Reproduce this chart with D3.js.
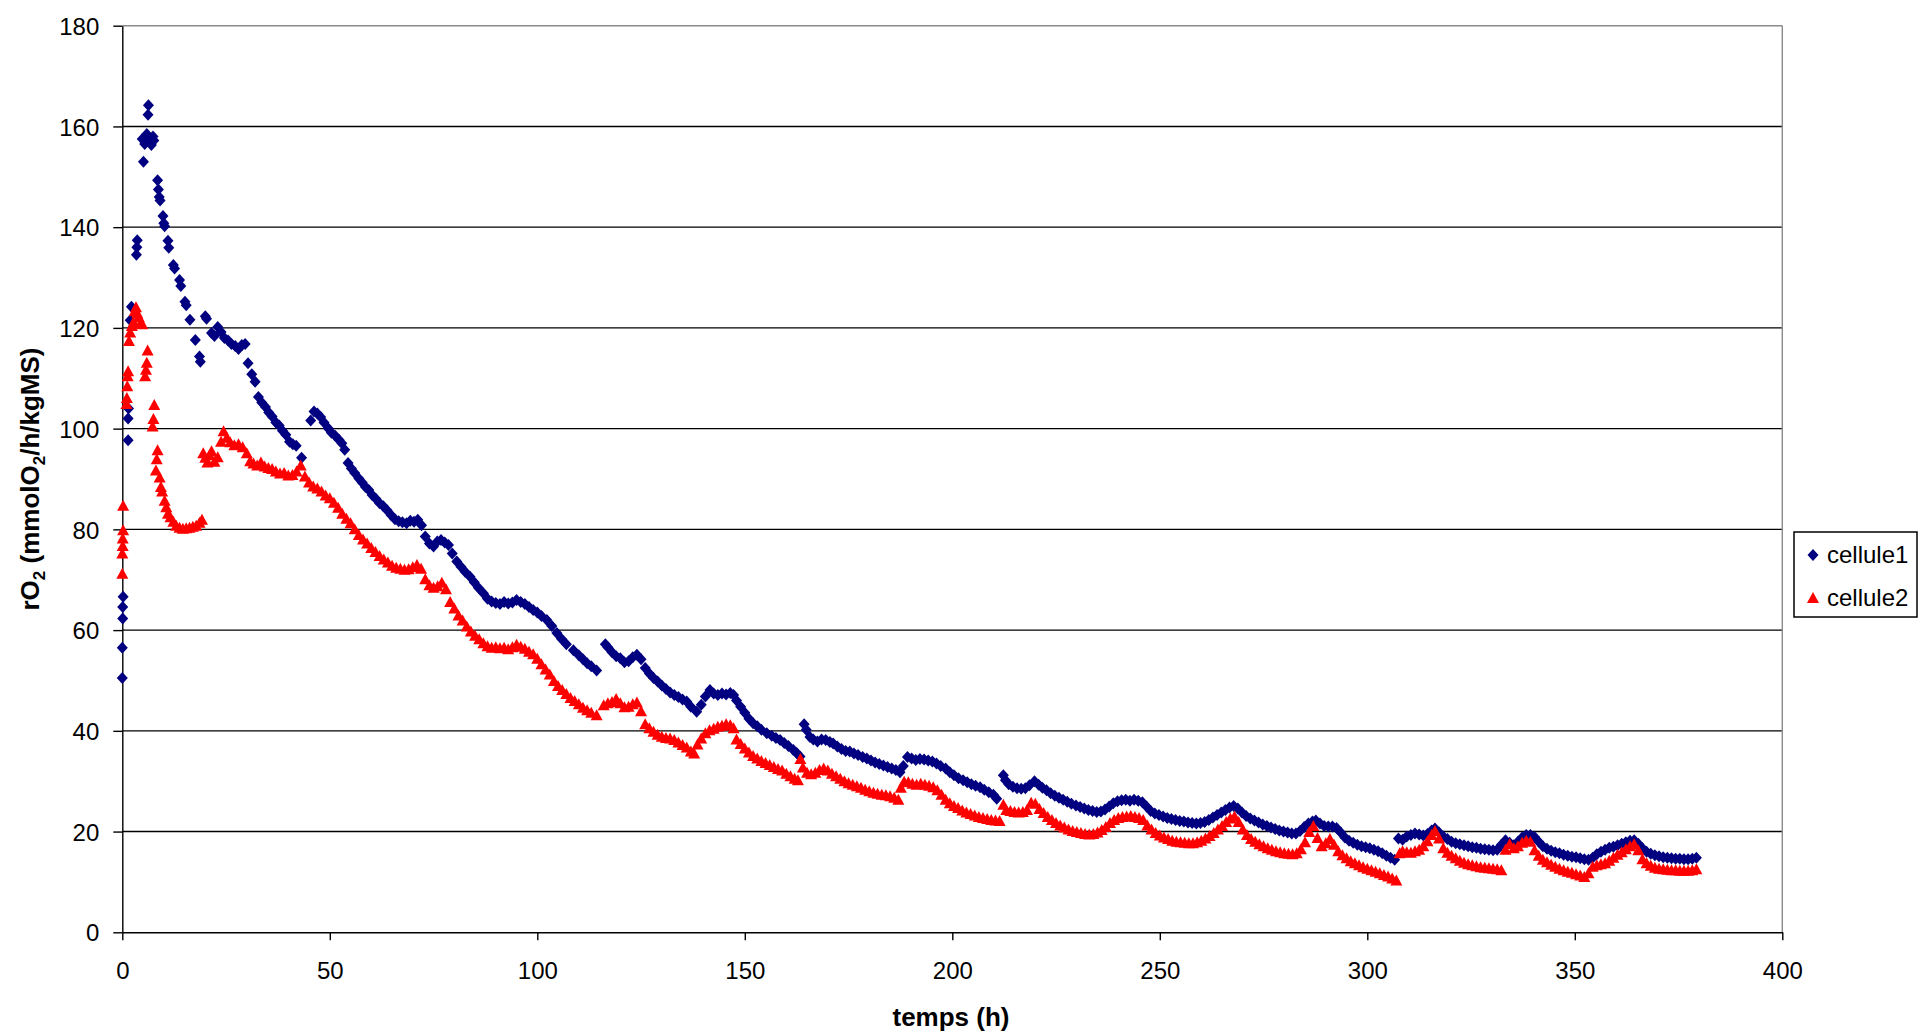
<!DOCTYPE html>
<html><head><meta charset="utf-8">
<script src="https://cdn.jsdelivr.net/npm/d3@7"></script>
<style>
body{margin:0;background:#fff;}
svg{display:block;font-family:"Liberation Sans",Arial,sans-serif;}
</style>
</head><body>
<svg id="c" width="1919" height="1034"></svg>
<script>
const xTicks=[0,50,100,150,200,250,300,350,400];
const yTicks=[0,20,40,60,80,100,120,140,160,180];
const seriesNames=["cellule1","cellule2"];
const xTitle="temps (h)";

// cellule1 : [temps (h), rO2]
const cellule1=[[0,50.5],[0,56.5],[0.1,62.3],[0.1,64.6],[0.2,66.6],
[1.4,97.7],[1.4,102],[1.5,104],[1.9,121.5],[2.2,124.2],
[3.4,134.5],[3.5,136],[3.6,137.4],
[4.8,157.5],[5.1,153],[5.4,156.5],[5.9,158.5],[6.2,162.3],[6.3,164.2],[6.6,157],[7.0,156.3],[7.4,158],[7.6,157.2],
[8.5,149.3],[8.7,147.5],[8.9,146],[9.1,145.3],[9.8,142.2],[10.0,140.8],[10.2,140.2],[11.0,137.3],[11.2,135.9],
[12.3,132.5],[12.6,131.8],[13.8,129.5],[14.1,128.3],[15.1,125.2],[15.4,124.5],[16.3,121.6],[17.6,117.6],[18.6,114.3],[18.8,113.3],
[20.0,122.3],[20.3,121.8],[21.5,119],[22.2,118.4],[23.0,120.2],[23.8,119.2],[24.6,118],[25.5,117.5],[26.3,116.8],[27.2,116.4],[28.0,115.8],[28.8,116.6],[29.6,116.8],
[30.3,113],[31.2,110.8],[32.0,109.3],[32.8,106.3],[33.6,105.2],[34.5,104.3],[35.3,103.2],[36.1,102.4],[37.0,101.2],[37.8,100.6],[38.6,99.6],[39.4,98.8],[40.3,97.4],[41.1,96.9],[41.9,96.6],[43.2,94.2],
[45.4,101.6],[46.2,103.4],[47.0,103],[47.8,102.3],[48.6,101.2],[49.6,100.1],[50.4,99.2],[51.3,98.6],[52.2,97.8],[52.9,97.1],[53.6,95.8],[54.4,93.2],[55.2,92.1],[56.0,91.2],[57.0,90.1],[57.8,89.3],[58.6,88.4],[59.4,87.8],
[60.2,86.8],[61.1,86.1],[62.0,85.2],[62.9,84.6],[63.8,83.8],[64.8,82.8],[65.7,82],[66.6,81.6],[67.5,81.4],[68.5,81.2],[69.4,81.7],[70.3,81.5],[71.2,81.9],[72.1,80.8],[73.0,78.6],[74.0,77.2],[75.0,76.6],[75.9,77.6],[76.8,77.9],[77.7,77.4],[78.6,76.9],[79.5,75.2],
[80.6,73.6],[81.6,72.6],[82.6,71.6],[83.8,70.6],[84.8,69.5],[85.8,68.4],[87.0,67.3],[88.0,66.2],[89.0,65.7],[90,65.4],[91,65.2],[92,65.6],[93,65.3],[94,65.5],[95,66],[96,65.6],[97,65.2],[98,64.6],[99,64],
[100,63.5],[101,62.8],[102.3,62],[103.5,60.8],[104.7,59.4],[105.8,58.3],[107,57.2],[108.7,56],[110,55],[111,54.2],[112,53.4],[113,52.8],[114.3,52],
[116.4,57.2],[117,56.6],[118,55.6],[119,54.8],[120,54.4],[121,53.6],[122,53.8],[123,54.6],[124,55.1],[125,54.2],[126,52.5],[127,51.4],[128,50.5],[129,49.8],
[130,49],[131,48.3],[132,47.6],[133,47.1],[134,46.7],[135,46.2],[136,45.8],[137,44.8],[138.4,43.8],[139.5,45.2],[140.5,46.8],[141.6,48.1],[142.5,47.4],[143.5,47.1],[144.5,47.4],[145.5,47.2],[146.5,47.5],[147.3,47.1],[148,46],[149,44.8],
[150,43.6],[151,42.4],[152,41.5],[153,40.9],[154,40.2],[155.3,39.5],[156.5,39],[157.5,38.6],[158.5,38.2],[159.5,37.6],[160.5,37],[161.7,36.2],[162.5,35.6],[163.3,34.9],
[164.3,41.3],[164.8,40.2],[165.7,38.8],[166.5,38.3],[167.5,37.9],[168.5,38.3],[169.5,38.2],[170.5,37.8],[171.3,37.5],[172.3,36.9],[173.3,36.4],[174.3,36],[175.3,35.9],[176.3,35.5],[177.3,35.2],[178.4,34.8],[179.4,34.5],
[180.4,34.1],[181.4,33.7],[182.4,33.4],[183.4,33.1],[184.4,32.8],[185.4,32.5],[186.4,32.2],[187.4,31.8],[188.2,33],[189.2,34.8],[190.2,34.5],[191.2,34.2],[192.2,34.4],[193.2,34.3],[194.2,34.1],[195.2,33.9],[196.2,33.5],[197.2,33],[198.4,32.5],[199.4,31.8],
[200.4,31.2],[201.5,30.6],[202.6,30.2],[203.6,29.8],[204.6,29.4],[205.6,29.1],[206.7,28.8],[207.7,28.3],[208.8,27.8],[209.9,27.3],[210.7,26.5],
[212.3,31.2],[212.8,30.2],[213.6,29.4],[214.6,28.9],[215.6,28.6],[216.6,28.5],[217.6,28.6],[218.6,29.2],[219.8,30],[220.8,29.3],[221.7,28.7],[222.7,28.2],[223.7,27.6],[224.7,27.1],[225.7,26.7],[226.7,26.3],[227.7,25.9],[228.7,25.5],[229.8,25.2],
[230.8,24.9],[231.8,24.6],[232.8,24.3],[233.8,24.1],[234.8,23.9],[235.8,24],[236.8,24.4],[237.8,25],[238.8,25.6],[239.8,26],[240.8,26.2],[241.8,26.3],[242.8,26.1],[243.8,26.3],[244.8,26.1],[245.8,25.8],[246.8,25],[247.8,24.1],[248.8,23.6],[249.8,23.3],
[250.8,23],[251.8,22.7],[252.8,22.5],[253.8,22.3],[254.8,22.1],[255.8,22],[256.8,21.8],[257.8,21.7],[258.8,21.6],[259.8,21.7],[260.8,21.9],[261.8,22.3],[262.8,22.8],[263.8,23.3],[264.8,23.8],[265.8,24.3],[266.8,24.8],[267.8,25.1],[268.8,24.6],[269.8,23.8],
[270.8,23.1],[271.8,22.6],[272.8,22.2],[273.8,21.8],[274.8,21.4],[275.8,21.1],[276.8,20.8],[277.8,20.5],[278.8,20.2],[279.8,20],[280.8,19.8],[281.8,19.6],[282.8,19.6],[283.8,20.1],[284.8,20.9],[285.8,21.6],[286.8,22],[287.6,22.2],[288.6,21.6],[289.6,21.1],
[290.6,21],[291.6,21],[292.6,20.7],[293.6,19.8],[294.6,18.8],[295.6,18.2],[296.6,17.8],[297.6,17.4],[298.6,17.1],[299.6,16.9],[300.6,16.7],[301.6,16.4],[302.6,16.1],[303.6,15.7],[304.6,15.2],[305.6,14.8],[306.6,14.4],
[307.5,18.6],[308.5,18.4],[309.5,19],[310.5,19.3],[311.5,19.6],[312.5,19.4],[313.5,19.2],[314.5,19.5],[315.5,20.2],[316.3,20.6],[317.3,19.8],[318.3,19],[319.3,18.5],
[320.3,18],[321.3,17.7],[322.3,17.5],[323.3,17.3],[324.3,17.1],[325.3,16.9],[326.3,16.8],[327.3,16.6],[328.3,16.5],[329.3,16.4],[330.3,16.3],[331.3,16.4],[332.3,17.4],[333.3,18.3],[334.3,17.8],[335.3,17.3],[336.3,18],[337.3,18.8],[338.3,19.3],[339.3,19.3],
[340.3,18.9],[341.3,18],[342.3,17.1],[343.3,16.6],[344.3,16.2],[345.3,15.9],[346.3,15.7],[347.3,15.4],[348.3,15.2],[349.3,15],[350.3,14.9],[351.3,14.7],[352.3,14.5],[353.3,14.4],[354.3,14.8],[355.3,15.5],[356.3,16],[357.3,16.4],[358.3,16.8],[359.3,17],
[360.3,17.3],[361.3,17.6],[362.3,17.9],[363.3,18.2],[364.3,18.3],[365.3,17.6],[366.3,16.7],[367.3,16],[368.3,15.6],[369.3,15.3],[370.3,15.1],[371.3,14.9],[372.3,14.8],[373.3,14.7],[374.3,14.6],[375.3,14.6],[376.3,14.5],[377.3,14.5],[378.3,14.6],[379.3,14.8]];

// cellule2 : [temps (h), rO2]
const cellule2=[[0,71.3],[0,75.3],[0.1,76.8],[0.1,78.3],[0.2,79.9],[0.2,84.8],
[1.0,105],[1.1,106.2],[1.2,108.5],[1.3,110.5],[1.4,111.5],[1.6,117.5],[1.9,119.2],[2.3,120.5],[2.7,121.2],[3.0,123.4],[3.3,124.2],[3.6,123],[4.0,122.2],[4.4,121],[4.8,120.8],
[5.5,110.5],[5.7,111.8],[5.9,113.2],[6.1,115.6],[7.3,100.5],[7.5,102],[7.7,104.8],[8.1,91.8],[8.3,94],[8.5,95.8],[9.0,90.4],[9.3,88.5],[9.6,87.6],
[10.2,85.8],[10.6,84.5],[11.0,83.2],[11.6,82.5],[12.3,81.6],[13.0,80.8],[13.8,80.4],[14.6,80.2],[15.4,80.3],[16.2,80.4],[17.0,80.6],[17.8,80.8],[18.6,81.4],[19.2,82],
[19.5,95.2],[20.0,94.3],[20.5,93.4],[21.0,94.8],[21.5,95.6],[22.2,93.5],[23,94.4],[23.8,97.5],[24.4,99.6],[25.2,98.3],[26,97.4],[27,96.8],[28,97],[29,96.4],
[30,95.2],[30.8,93.6],[31.6,93.2],[32.5,92.8],[33.4,93.4],[34.3,92.6],[35.2,92.3],[36.1,92.1],[37,91.6],[38,91.2],[39,91.3],[40,90.8],[41,90.9],[42,91.6],[43,92.8],[44,90.6],[45,89.4],[46,88.6],[47,88.2],[48,87.6],[49,86.8],
[50,86.3],[51,85.4],[52,84.4],[53,83.2],[54,82.2],[55,81.3],[56,80.1],[57,79],[58,78.1],[59,77.3],[60,76.4],[61,75.6],[62,74.8],[63,74.1],[64,73.5],[65,72.9],[66,72.5],[67,72.3],[68,72.1],[69,72.2],
[70,72.6],[71,73],[72,72.3],[73,70.2],[74,69],[75,68.5],[76,68.8],[77,69.5],[78,68.2],[79,65.7],[80,64.4],[81,63],[82,62],[83,60.8],[84,59.8],[85,59],[86,58.3],[87,57.5],[88,56.9],[89,56.6],
[90,56.7],[91,56.5],[92,56.6],[93,56.3],[94,56.7],[95,57.2],[96,56.8],[97,56.4],[98,55.8],[99,55.3],[100,54.4],[101,53.3],[102,52.3],[103,51.3],[104,50],[105,49],[106,48.2],[107,47.4],[108,46.6],[109,46],
[110,45.4],[111,44.7],[112,44.2],[113,43.7],[114.3,43.2],
[116,45.2],[117,45.6],[118,45.8],[119,46.4],[120,45.6],[121,44.8],[122,44.9],[123,45.4],[124,45.7],[125,44],[126,41.4],[127,40.6],[128,39.9],[129,39.3],
[130,38.9],[131,38.7],[132,38.6],[133,38.3],[134,37.8],[135,37.3],[136,36.8],[137,36],[137.8,35.6],[138.6,37.4],[139.5,38.6],[140.5,39.6],[141.5,40.2],[142.5,40.5],[143.5,40.9],[144.5,41.1],[145.5,41.4],[146.5,41.2],[147.3,40.6],[148,38.4],[149,37.5],
[150,36.6],[151,35.8],[152,35.1],[153,34.6],[154,34.1],[155,33.7],[156,33.3],[157,32.9],[158,32.5],[159,32.2],[160,31.6],[161,31.1],[162,30.6],[162.8,30.3],[163.4,34.5],[164,32.8],[165,31.8],[166,31.5],[167,31.8],[168,32.3],[169,32.6],
[170,32.2],[171,31.6],[172,31.1],[173,30.6],[174,30.1],[175,29.7],[176,29.4],[177,29.1],[178,28.8],[179,28.4],[180,28.1],[181,27.8],[182,27.6],[183,27.4],[184,27.3],[185,27.1],[186,26.8],[187,26.4],[187.6,28.8],[188.4,30],[189.4,29.9],
[190.4,29.6],[191.4,29.4],[192.4,29.6],[193.4,29.4],[194.4,29.2],[195.4,28.9],[196.4,28.3],[197.4,27.4],[198.4,26.4],[199.4,25.7],[200.4,25.2],[201.4,24.8],[202.4,24.3],[203.4,23.9],[204.4,23.6],[205.4,23.3],[206.4,23],[207.4,22.8],[208.4,22.6],[209.4,22.4],
[210.4,22.3],[211.4,22.2],[212.3,25.4],[213,24.4],[214,24.2],[215,24],[216,23.9],[217,24],[218,24.4],[219,25.8],[220,25.6],[221,24.6],[222,23.8],[223,23],[224,22.4],[225,21.8],[226,21.3],[227,20.9],[228,20.5],[229,20.2],
[230,20],[231,19.8],[232,19.6],[233,19.5],[234,19.6],[235,19.9],[236,20.4],[237,21],[238,21.8],[239,22.4],[240,22.8],[241,23],[242,23.1],[243,23.2],[244,23],[245,22.8],[246,22.4],[247,21.3],[248,20.5],[249,19.8],
[250,19.3],[251,18.9],[252,18.6],[253,18.3],[254,18.1],[255,18],[256,17.9],[257,17.8],[258,17.8],[259,18],[260,18.3],[261,18.7],[262,19.2],[263,19.8],[264,20.5],[265,21.2],[266,22],[267,22.7],[268,23.1],[269,22],
[270,20.5],[271,19.4],[272,18.6],[273,18.1],[274,17.6],[275,17.2],[276,16.8],[277,16.5],[278,16.2],[279,16],[280,15.8],[281,15.7],[282,15.6],[283,15.8],[284,16.6],[285,18],[286,20],[287,21.2],[288,18.8],[289,17.2],
[290,17.8],[291,18.6],[292,17.5],[293,16.2],[294,15.4],[295,14.8],[296,14.2],[297,13.8],[298,13.4],[299,13],[300,12.7],[301,12.4],[302,12.1],[303,11.8],[304,11.5],[305,11.2],[306,10.8],[307,10.4],
[307.8,15.8],[308.5,16.2],[309.5,16],[310.5,15.9],[311.5,16.2],[312.5,16.5],[313.5,17.2],[314.5,18.2],[315.5,19.4],[316.3,20.2],[317.3,18.7],[318.3,16.8],[319.3,15.9],
[320.3,15.3],[321.3,14.8],[322.3,14.3],[323.3,13.9],[324.3,13.6],[325.3,13.4],[326.3,13.2],[327.3,13],[328.3,12.9],[329.3,12.8],[330.3,12.7],[331.3,12.6],[332.3,12.4],[333.3,16.5],[334.3,17.6],[335.3,16.8],[336.3,17.2],[337.3,17.9],[338.3,18.3],[339.3,18.1],
[340.3,16.4],[341.3,15.3],[342.3,14.5],[343.3,14],[344.3,13.5],[345.3,13.1],[346.3,12.7],[347.3,12.4],[348.3,12.1],[349.3,11.9],[350.3,11.6],[351.3,11.4],[352.3,11.1],[353.3,11.8],[354.3,13.1],[355.3,13.4],[356.3,13.6],[357.3,13.8],[358.3,14.3],[359.3,14.9],
[360.3,15.5],[361.3,16],[362.3,16.6],[363.3,17.2],[364.3,17.6],[365.3,16.4],[366.3,14.6],[367.3,13.8],[368.3,13.3],[369.3,12.9],[370.3,12.7],[371.3,12.6],[372.3,12.5],[373.3,12.4],[374.3,12.4],[375.3,12.3],[376.3,12.3],[377.3,12.3],[378.3,12.4],[379.3,12.6]];

const svg=d3.select("#c");
const L=122.3,R=1782.3,T=25.7,B=932.3;
const x=d3.scaleLinear().domain([0,400]).range([L,R]);
const y=d3.scaleLinear().domain([0,180]).range([B,T]);

// gridlines
svg.append("g").selectAll("line").data(yTicks.filter(d=>d>0&&d<180)).join("line")
  .attr("x1",L).attr("x2",R).attr("y1",d=>y(d)).attr("y2",d=>y(d))
  .attr("stroke","#000").attr("stroke-width",1.4);
// plot area border (top & right)
svg.append("line").attr("x1",L).attr("x2",R).attr("y1",y(180)).attr("y2",y(180)).attr("stroke","#8a8a8a").attr("stroke-width",1.4);
svg.append("line").attr("x1",R).attr("x2",R).attr("y1",T).attr("y2",B).attr("stroke","#8a8a8a").attr("stroke-width",1.4);

// axes
const gy=svg.append("g").attr("transform",`translate(${L},0)`)
  .call(d3.axisLeft(y).tickValues(yTicks).tickSize(9).tickSizeOuter(0).tickPadding(14).tickFormat(d3.format("d")));
const gx=svg.append("g").attr("transform",`translate(0,${B})`)
  .call(d3.axisBottom(x).tickValues(xTicks).tickSize(8).tickSizeOuter(0).tickPadding(22).tickFormat(d3.format("d")));
[gy,gx].forEach(g=>{
  g.attr("font-family",null).attr("font-size",null);
  g.selectAll("path,line").attr("stroke","#000").attr("stroke-width",1.4);
  g.selectAll("text").attr("fill","#000").style("font-size","24px").style("font-family","'Liberation Sans',Arial,sans-serif");
});
gy.selectAll("text").attr("dy","0.36em");

// markers
const diamond="M0,-6L5.5,0L0,6L-5.5,0Z";
const triangle="M0,-6L6,5L-6,5Z";
svg.append("g").selectAll("path").data(cellule1).join("path")
  .attr("d",diamond).attr("fill","#000080")
  .attr("transform",d=>`translate(${x(d[0])},${y(d[1])})`);
svg.append("g").selectAll("path").data(cellule2).join("path")
  .attr("d",triangle).attr("fill","#ff0000")
  .attr("transform",d=>`translate(${x(d[0])},${y(d[1])+0.5})`);

// axis titles
svg.append("text").attr("x",951).attr("y",1026).attr("text-anchor","middle")
  .style("font-size","26px").style("font-weight","bold").text(xTitle);
const yt=svg.append("text").attr("transform","translate(39,479) rotate(-90)").attr("text-anchor","middle")
  .style("font-size","26px").style("font-weight","bold");
yt.append("tspan").text("rO");
yt.append("tspan").attr("dy",6).style("font-size","17px").text("2");
yt.append("tspan").attr("dy",-6).text(" (mmolO");
yt.append("tspan").attr("dy",6).style("font-size","17px").text("2");
yt.append("tspan").attr("dy",-6).text("/h/kgMS)");

// legend
const lg=svg.append("g");
lg.append("rect").attr("x",1794).attr("y",532).attr("width",123).attr("height",85)
  .attr("fill","#fff").attr("stroke","#000").attr("stroke-width",1.5);
lg.append("path").attr("d",diamond).attr("fill","#000080").attr("transform","translate(1813,555)");
lg.append("path").attr("d",triangle).attr("fill","#ff0000").attr("transform","translate(1813,598)");
lg.selectAll("text").data(seriesNames).join("text")
  .attr("x",1827).attr("y",(d,i)=>563+i*43).style("font-size","24px").attr("fill","#000").text(d=>d);
</script>
</body></html>
